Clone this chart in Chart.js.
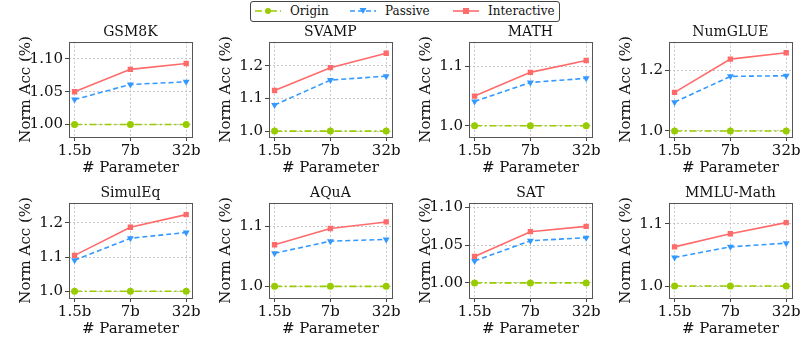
<!DOCTYPE html>
<html>
<head>
<meta charset="utf-8">
<script src="https://cdn.jsdelivr.net/npm/chart.js@4.4.0/dist/chart.umd.min.js"></script>
<style>
  body { margin: 0; background: #fff; }
  #wrap { position: relative; width: 810px; height: 347px; overflow: hidden; font-family: 'DejaVu Serif', serif; }
  canvas.panel { position: absolute; }
  #legend {
    position: absolute; left: 250px; top: 1px; width: 310px; height: 21px;
    border: 1px solid #444; border-radius: 3px; box-sizing: border-box;
    font-size: 12px; color: #111; background: #fff; z-index: 2;
  }
  #legend span { position: absolute; top: 2px; display: inline-flex; align-items: center; }
  #legend svg { margin-right: 9px; }
</style>
</head>
<body>
<div id="wrap">
  <div id="legend">
    <span style="left:4px"><svg width="26" height="10"><line x1="0" y1="5" x2="26" y2="5" stroke="#99cc00" stroke-width="1.6" stroke-dasharray="7,3,2,3"/><circle cx="13" cy="5" r="3" fill="#99cc00"/></svg>Origin</span>
    <span style="left:99px"><svg width="26" height="10"><line x1="0" y1="5" x2="26" y2="5" stroke="#3399ff" stroke-width="1.6" stroke-dasharray="5,3"/><polygon points="9.5,2 16.5,2 13,8" fill="#3399ff"/></svg>Passive</span>
    <span style="left:202px"><svg width="26" height="10"><line x1="0" y1="5" x2="26" y2="5" stroke="#ff6b6b" stroke-width="1.6"/><rect x="10" y="2" width="6" height="6" fill="#ff6b6b"/></svg>Interactive</span>
  </div>
</div>
<script>
// DATA
const sizes = ['1.5b', '7b', '32b'];
const titles = ['GSM8K', 'SVAMP', 'MATH', 'NumGLUE', 'SimulEq', 'AQuA', 'SAT', 'MMLU-Math'];
const xLabel = '# Parameter';
const yLabel = 'Norm Acc (%)';

const origin = [1.0, 1.0, 1.0];
const passive = [
  [1.038, 1.061, 1.065],
  [1.080, 1.156, 1.168],
  [1.041, 1.073, 1.080],
  [1.095, 1.180, 1.182],
  [1.091, 1.155, 1.172],
  [1.055, 1.075, 1.078],
  [1.029, 1.056, 1.060],
  [1.046, 1.063, 1.069]
];
const interactive = [
  [1.050, 1.084, 1.093],
  [1.124, 1.194, 1.238],
  [1.050, 1.090, 1.110],
  [1.127, 1.237, 1.258],
  [1.105, 1.187, 1.224],
  [1.069, 1.096, 1.107],
  [1.035, 1.068, 1.075],
  [1.063, 1.084, 1.102]
];
const yTicks = [
  [1.00, 1.05, 1.10],
  [1.0, 1.1, 1.2],
  [1.0, 1.1],
  [1.0, 1.2],
  [1.0, 1.1, 1.2],
  [1.0, 1.1],
  [1.00, 1.05, 1.10],
  [1.0, 1.1]
];
const yDecimals = [2, 1, 1, 1, 1, 1, 2, 1];
const yMin = [0.981, 0.982, 0.981, 0.980, 0.9805, 0.9806, 0.980, 0.9807];
const yMax = [1.126, 1.273, 1.1416, 1.294, 1.2586, 1.1388, 1.1063, 1.1339];

const fontFam = "'DejaVu Serif', serif";

// box round the plot + x axis title centred under the plot
const frame = {
  id: 'frame',
  afterDraw(chart) {
    const a = chart.chartArea;
    const ctx = chart.ctx;
    ctx.save();
    ctx.strokeStyle = '#555';
    ctx.lineWidth = 1;
    ctx.strokeRect(Math.round(a.left) + 0.5, Math.round(a.top) + 0.5, Math.round(a.right - a.left), Math.round(a.bottom - a.top));
    ctx.fillStyle = '#111';
    ctx.font = '15px ' + fontFam;
    ctx.textAlign = 'center';
    ctx.textBaseline = 'middle';
    ctx.fillText(xLabel, (a.left + a.right) / 2, chart.height - 18);
    ctx.restore();
  }
};

const wrap = document.getElementById('wrap');

titles.forEach((title, i) => {
  const col = i % 4;
  const row = Math.floor(i / 4);
  const cv = document.createElement('canvas');
  cv.className = 'panel';
  cv.width = 202;
  cv.height = 186;
  cv.style.left = (col * 200) + 'px';
  cv.style.top = (row * 161) + 'px';
  cv.style.width = '202px';
  cv.style.height = '186px';
  wrap.appendChild(cv);

  const pts = (vals) => vals.map((v, k) => ({ x: k, y: v }));

  new Chart(cv.getContext('2d'), {
    type: 'line',
    data: {
      datasets: [{
        label: 'Origin',
        data: pts(origin),
        borderColor: '#99cc00',
        backgroundColor: '#99cc00',
        borderWidth: 1.6,
        borderDash: [7, 3, 2, 3],
        pointStyle: 'circle',
        pointRadius: 3.5,
        pointBorderWidth: 0
      }, {
        label: 'Passive',
        data: pts(passive[i]),
        borderColor: '#3399ff',
        backgroundColor: '#3399ff',
        borderWidth: 1.6,
        borderDash: [5, 3],
        pointStyle: 'triangle',
        pointRotation: 180,
        pointRadius: 4,
        pointBorderWidth: 0
      }, {
        label: 'Interactive',
        data: pts(interactive[i]),
        borderColor: '#ff6b6b',
        backgroundColor: '#ff6b6b',
        borderWidth: 1.6,
        pointStyle: 'rect',
        pointRadius: 3.8,
        pointBorderWidth: 0
      }]
    },
    options: {
      responsive: false,
      animation: false,
      layout: { padding: { left: 0, right: 0, top: 0, bottom: 0 } },
      plugins: {
        legend: { display: false },
        tooltip: { enabled: false },
        title: {
          display: true,
          text: title,
          fullSize: false,
          color: '#111',
          font: { family: fontFam, size: 14, weight: 'normal' },
          padding: { top: 24, bottom: 1 }
        }
      },
      scales: {
        x: {
          type: 'linear',
          min: -0.1,
          max: 2.1,
          afterBuildTicks: (s) => { s.ticks = [0, 1, 2].map(v => ({ value: v })); },
          afterFit: (s) => { s.height = 49; },
          ticks: {
            color: '#111',
            font: { family: fontFam, size: 15 },
            padding: 1,
            maxRotation: 0,
            autoSkip: false,
            callback: (v) => sizes[v]
          },
          grid: { color: '#c8c8c8', tickColor: '#444', tickLength: 4, tickBorderDash: [] },
          border: { display: false, dash: [2, 2] }
        },
        y: {
          min: yMin[i],
          max: yMax[i],
          afterBuildTicks: (s) => { s.ticks = yTicks[i].map(v => ({ value: v })); },
          afterFit: (s) => { s.width = 69; },
          ticks: {
            color: '#111',
            font: { family: fontFam, size: 15 },
            padding: 2,
            callback: (v) => Number(v).toFixed(yDecimals[i])
          },
          grid: { color: '#c8c8c8', tickColor: '#444', tickLength: 4, tickBorderDash: [] },
          border: { display: false, dash: [2, 2] },
          title: {
            display: true,
            text: yLabel,
            color: '#111',
            font: { family: fontFam, size: 15 },
            padding: { top: 17.5, bottom: 0 }
          }
        }
      }
    },
    plugins: [frame]
  });
});
</script>
</body>
</html>
